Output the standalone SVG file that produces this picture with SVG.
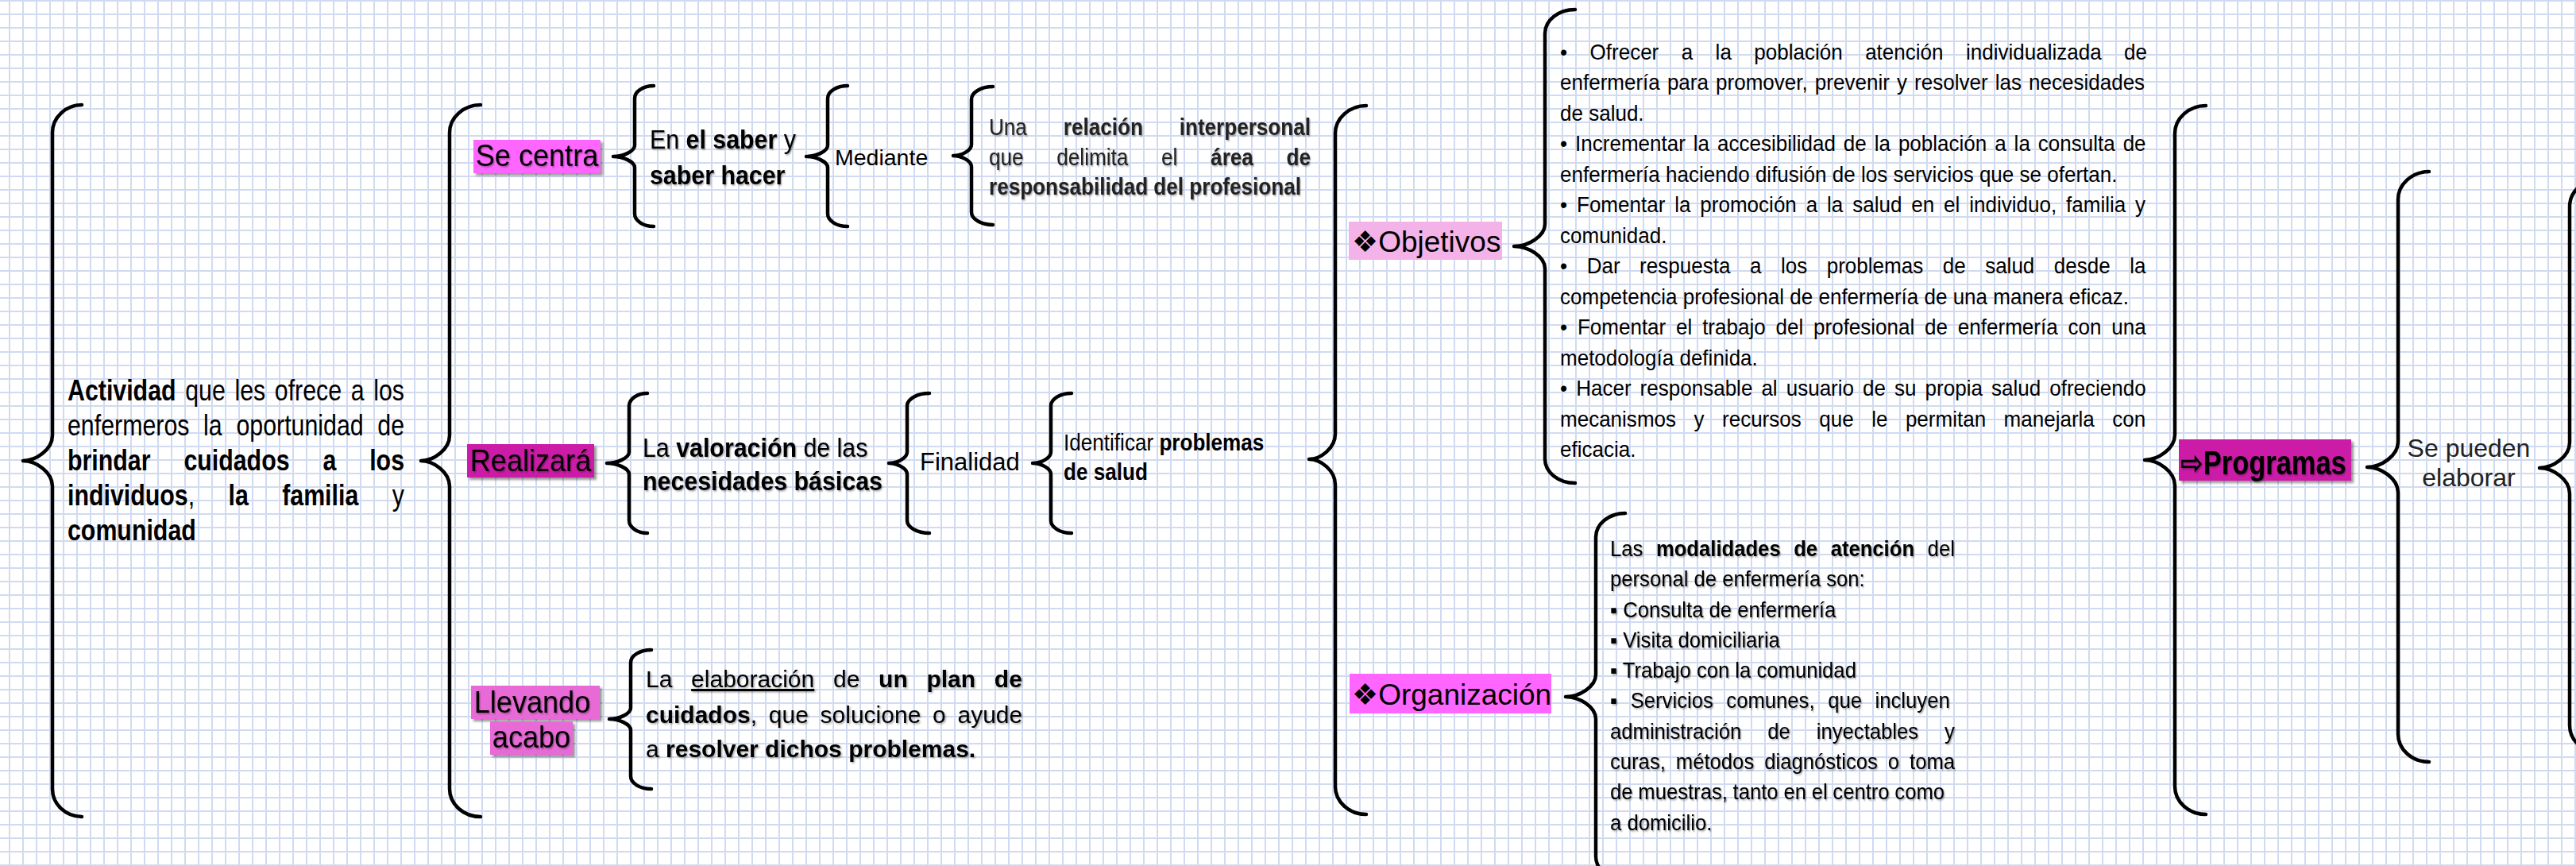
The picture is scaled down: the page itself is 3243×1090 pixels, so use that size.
<svg xmlns="http://www.w3.org/2000/svg" width="3243" height="1090" viewBox="0 0 3243 1090">
<defs>
<pattern id="grid" x="11" y="0" width="17" height="17" patternUnits="userSpaceOnUse">
<rect x="0" y="0" width="2" height="17" fill="#d0daf1"/>
<rect x="0" y="0" width="17" height="2" fill="#d0daf1"/>
</pattern>
<filter id="ts" x="-5%" y="-20%" width="110%" height="150%"><feDropShadow dx="1.5" dy="1.5" stdDeviation="0.8" flood-color="#000" flood-opacity="0.35"/></filter>
<filter id="bs" x="-10%" y="-20%" width="125%" height="150%"><feDropShadow dx="3" dy="3" stdDeviation="1.5" flood-color="#000" flood-opacity="0.4"/></filter>
<style>
.t{font-family:"Liberation Sans",Arial,"DejaVu Sans",sans-serif;fill:#000}
.b{font-weight:bold}
.br{fill:none;stroke:#000;stroke-width:4.5;stroke-linecap:round;stroke-linejoin:round}
.lbl{font-family:"Liberation Sans",Arial,"DejaVu Sans",sans-serif;fill:#000}
</style>
</defs>
<rect width="3243" height="1090" fill="#fff"/>
<rect width="3243" height="1090" fill="url(#grid)"/>

<g id="connectors">
<path class="br" d="M103 132 C82.7 132 66 147.8 66 167 L66 548 C66 565.6 45.7 580 29 580 C45.7 580 66 594.4 66 612 L66 993 C66 1012.3 82.7 1028 103 1028"/>
<path class="br" d="M605 132 C583.6 132 566 147.8 566 167 L566 548 C566 565.6 546.2 580 530 580 C546.2 580 566 594.4 566 612 L566 993 C566 1012.3 583.6 1028 605 1028"/>
<path class="br" d="M823 108 C809.8 108 799 115.2 799 124 L799 183 C799 190.7 784.2 197 772 197 C784.2 197 799 203.3 799 211 L799 269 C799 277.8 809.8 285 823 285"/>
<path class="br" d="M1067 108 C1053.3 108 1042 115.2 1042 124 L1042 183 C1042 190.7 1027.2 197 1015 197 C1027.2 197 1042 203.3 1042 211 L1042 269 C1042 277.8 1053.3 285 1067 285"/>
<path class="br" d="M1250 109 C1235.2 109 1223 116.2 1223 125 L1223 182 C1223 189.7 1210.4 196 1200 196 C1210.4 196 1223 202.3 1223 210 L1223 267 C1223 275.8 1235.2 283 1250 283"/>
<path class="br" d="M815 495 C802.4 495 792 502.2 792 511 L792 569 C792 576.7 776.6 583 764 583 C776.6 583 792 589.3 792 597 L792 655 C792 663.8 802.4 671 815 671"/>
<path class="br" d="M1170 495 C1154.6 495 1142 502.2 1142 511 L1142 569 C1142 576.7 1129.4 583 1119 583 C1129.4 583 1142 589.3 1142 597 L1142 655 C1142 663.8 1154.6 671 1170 671"/>
<path class="br" d="M1349 495 C1334.7 495 1323 502.2 1323 511 L1323 569 C1323 576.7 1310.4 583 1300 583 C1310.4 583 1323 589.3 1323 597 L1323 655 C1323 663.8 1334.7 671 1349 671"/>
<path class="br" d="M820 818 C805.7 818 794 825.2 794 834 L794 891 C794 898.7 779.2 905 767 905 C779.2 905 794 911.3 794 919 L794 977 C794 985.8 805.7 993 820 993"/>
<path class="br" d="M1720 133 C1698.6 133 1681 148.8 1681 168 L1681 546 C1681 563.6 1662.9 578 1648 578 C1662.9 578 1681 592.4 1681 610 L1681 990 C1681 1009.3 1698.6 1025 1720 1025"/>
<path class="br" d="M1983 12 C1962.1 12 1945 25.5 1945 42 L1945 282 C1945 297.4 1923.6 310 1906 310 C1923.6 310 1945 322.6 1945 338 L1945 578 C1945 594.5 1962.1 608 1983 608"/>
<path class="br" d="M2046 646 C2025.7 646 2009 659.5 2009 676 L2009 849 C2009 864.4 1988.1 877 1971 877 C1988.1 877 2009 889.6 2009 905 L2009 1078 C2009 1094.5 2025.7 1108 2046 1108"/>
<path class="br" d="M2777 133 C2755.6 133 2738 148.8 2738 168 L2738 547 C2738 564.6 2717.1 579 2700 579 C2717.1 579 2738 593.4 2738 611 L2738 990 C2738 1009.3 2755.6 1025 2777 1025"/>
<path class="br" d="M3058 216 C3036.6 216 3019 231.8 3019 251 L3019 556 C3019 573.6 2997.6 588 2980 588 C2997.6 588 3019 602.4 3019 620 L3019 924 C3019 943.3 3036.6 959 3058 959"/>
<path class="br" d="M3274 225 C3252.6 225 3235 240.8 3235 260 L3235 557 C3235 574.6 3214.1 589 3197 589 C3214.1 589 3235 603.4 3235 621 L3235 913 C3235 932.3 3252.6 948 3274 948"/>
</g>

<g id="n-actividad" class="t" font-size="37" transform="translate(85,0) scale(0.82,1)">
<text y="504" word-spacing="3.9"><tspan class="b">Actividad</tspan> que les ofrece a los</text>
<text y="548" word-spacing="11.3">enfermeros la oportunidad de</text>
<text y="592" word-spacing="40.8" class="b">brindar cuidados a los</text>
<text y="636" word-spacing="41.4"><tspan class="b">individuos</tspan>, <tspan class="b">la familia</tspan> y</text>
<text y="680" class="b">comunidad</text>
</g>

<g id="n-secentra">
<rect x="596" y="176" width="160" height="42" fill="#ff66ff" filter="url(#bs)"/>
<text class="lbl" font-size="38" transform="translate(676,209) scale(0.95,1)" text-anchor="middle" filter="url(#ts)">Se centra</text>
</g>

<g id="n-saber" class="t" font-size="33" transform="translate(818,0) scale(0.92,1)" filter="url(#ts)">
<text y="187">En <tspan class="b">el saber</tspan> y</text>
<text y="232" class="b">saber hacer</text>
</g>

<g id="n-mediante"><text class="t" x="1051" y="208" font-size="28.5">Mediante</text></g>

<g id="n-relacion" class="t" font-size="30" transform="translate(1245,0) scale(0.87,1)" filter="url(#ts)">
<text y="170" word-spacing="44.4" fill="#222">Una <tspan class="b">relación interpersonal</tspan></text>
<text y="208" word-spacing="39.7" fill="#222">que delimita el <tspan class="b">área de</tspan></text>
<text y="245" class="b" fill="#222">responsabilidad del profesional</text>
</g>

<g id="n-realizara">
<rect x="588" y="559" width="160" height="42" fill="#cc1fa7" filter="url(#bs)"/>
<text class="lbl" font-size="38" transform="translate(668,593) scale(0.95,1)" text-anchor="middle" filter="url(#ts)">Realizará</text>
</g>

<g id="n-valoracion" class="t" font-size="33" transform="translate(809,0) scale(0.92,1)" filter="url(#ts)">
<text y="575">La <tspan class="b">valoración</tspan> de las</text>
<text y="617" class="b">necesidades básicas</text>
</g>

<g id="n-finalidad"><text class="t" x="1158" y="592" font-size="31">Finalidad</text></g>

<g id="n-identificar" class="t" font-size="30" transform="translate(1339,0) scale(0.87,1)">
<text y="567">Identificar <tspan class="b">problemas</tspan></text>
<text y="604" class="b">de salud</text>
</g>

<g id="n-llevando">
<rect x="593" y="863" width="162" height="42" fill="#e76bd6" filter="url(#bs)"/>
<rect x="617" y="908" width="104" height="42" fill="#e76bd6" filter="url(#bs)"/>
<text class="lbl" font-size="38" transform="translate(670,897) scale(0.95,1)" text-anchor="middle" filter="url(#ts)">Llevando</text>
<text class="lbl" font-size="38" transform="translate(669,941) scale(0.95,1)" text-anchor="middle" filter="url(#ts)">acabo</text>
</g>

<g id="n-elaboracion" class="t" font-size="30" filter="url(#ts)">
<text x="813" y="865" word-spacing="15.4">La <tspan text-decoration="underline">elaboración</tspan> de <tspan class="b">un plan de</tspan></text>
<text x="813" y="910" word-spacing="6.4"><tspan class="b">cuidados</tspan>, que solucione o ayude</text>
<text x="813" y="953">a <tspan class="b">resolver dichos problemas.</tspan></text>
</g>

<g id="n-objetivos">
<rect x="1698" y="279" width="193" height="48" fill="#f3b3e9"/>
<text class="lbl" x="1702" y="317" font-size="37">❖Objetivos</text>
</g>

<g id="n-objetivos-list" class="t" font-size="28" transform="translate(1964,0) scale(0.93,1)">
<text x="0" y="75" word-spacing="22.8">• Ofrecer a la población atención individualizada de</text>
<text x="0" y="113.5" word-spacing="2">enfermería para promover, prevenir y resolver las necesidades</text>
<text x="0" y="152">de salud.</text>
<text x="0" y="190.5" word-spacing="2.9">• Incrementar la accesibilidad de la población a la consulta de</text>
<text x="0" y="229">enfermería haciendo difusión de los servicios que se ofertan.</text>
<text x="0" y="267.5" word-spacing="5">• Fomentar la promoción a la salud en el individuo, familia y</text>
<text x="0" y="306">comunidad.</text>
<text x="0" y="344.5" word-spacing="18.6">• Dar respuesta a los problemas de salud desde la</text>
<text x="0" y="383">competencia profesional de enfermería de una manera eficaz.</text>
<text x="0" y="421.5" word-spacing="6">• Fomentar el trabajo del profesional de enfermería con una</text>
<text x="0" y="460">metodología definida.</text>
<text x="0" y="498.5" word-spacing="4.1">• Hacer responsable al usuario de su propia salud ofreciendo</text>
<text x="0" y="537" word-spacing="16.4">mecanismos y recursos que le permitan manejarla con</text>
<text x="0" y="575.5">eficacia.</text>
</g>

<g id="n-organizacion">
<rect x="1699" y="848" width="254" height="50" fill="#ff66ff"/>
<text class="lbl" x="1702" y="887" font-size="37">❖Organización</text>
</g>

<g id="n-organizacion-list" class="t" font-size="27" transform="translate(2027,0) scale(0.95,1)" filter="url(#ts)">
<text x="0" y="700" word-spacing="9.9">Las <tspan class="b">modalidades de atención</tspan> del</text>
<text x="0" y="738.3">personal de enfermería son:</text>
<text x="0" y="776.6">▪ Consulta de enfermería</text>
<text x="0" y="814.9">▪ Visita domiciliaria</text>
<text x="0" y="853.2">▪ Trabajo con la comunidad</text>
<text x="0" y="891.5" word-spacing="10">▪ Servicios comunes, que incluyen</text>
<text x="0" y="929.8" word-spacing="27.2">administración de inyectables y</text>
<text x="0" y="968.1" word-spacing="6.2">curas, métodos diagnósticos o toma</text>
<text x="0" y="1006.4" word-spacing="-0.4">de muestras, tanto en el centro como</text>
<text x="0" y="1044.7">a domicilio.</text>
</g>

<g id="n-programas">
<rect x="2743" y="553" width="217" height="52" fill="#cc1fa7" filter="url(#bs)"/>
<text class="lbl b" font-size="42" transform="translate(2745,597) scale(0.82,1)" filter="url(#ts)">⇨Programas</text>
</g>

<g id="n-sepueden" class="t" font-size="32" text-anchor="middle">
<text x="3108" y="575" fill="#222">Se pueden</text>
<text x="3108" y="612" fill="#222">elaborar</text>
</g>
</svg>
